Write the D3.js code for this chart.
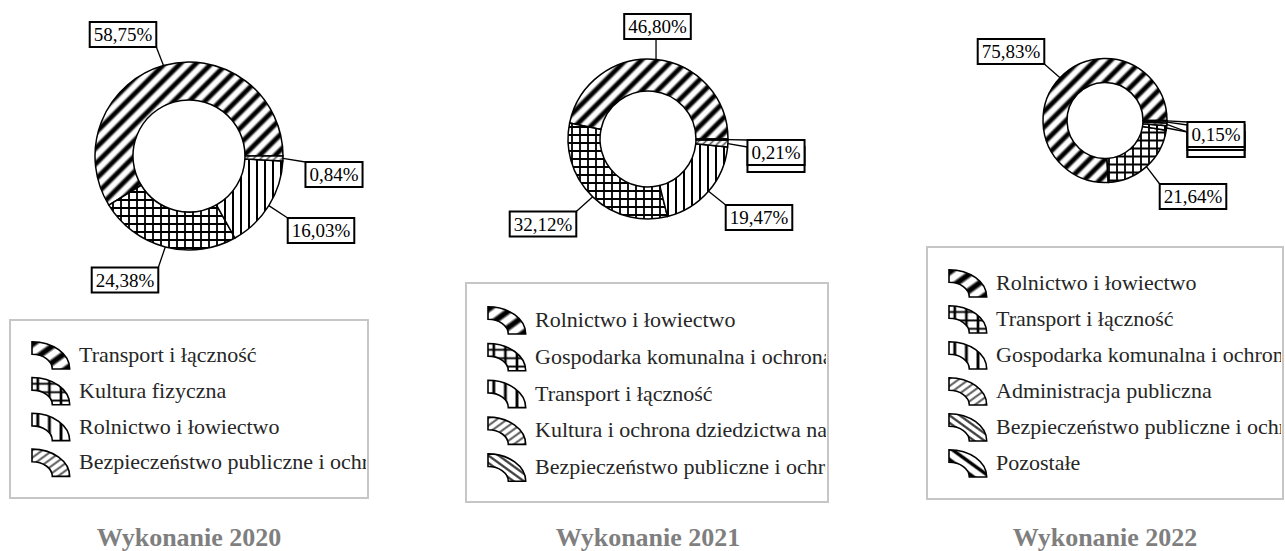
<!DOCTYPE html>
<html>
<head>
<meta charset="utf-8">
<script src="https://cdn.jsdelivr.net/npm/d3@7"></script>
<style>
  body { margin: 0; background: #fff; }
  svg { display: block; }
</style>
</head>
<body>
<svg id="chart" width="1285" height="551"></svg>
<script>
// Data
const years = ['2020', '2021', '2022'];

const categories2020 = ['Transport i łączność', 'Kultura fizyczna', 'Rolnictwo i łowiectwo',
	'Bezpieczeństwo publiczne i ochrona przeciwpożarowa'];
const values2020 = [58.75, 24.38, 16.03, 0.84];

const categories2021 = ['Rolnictwo i łowiectwo', 'Gospodarka komunalna i ochrona środowiska', 'Transport i łączność',
	'Kultura i ochrona dziedzictwa narodowego', 'Bezpieczeństwo publiczne i ochrona przeciwpożarowa'];
const values2021 = [46.80, 32.12, 19.47, 1.40, 0.21];

const categories2022 = ['Rolnictwo i łowiectwo', 'Transport i łączność', 'Gospodarka komunalna i ochrona środowiska',
	'Administracja publiczna', 'Bezpieczeństwo publiczne i ochrona przeciwpożarowa', 'Pozostałe'];
const values2022 = [75.83, 21.64, 1.20, 0.70, 0.48, 0.15];

// Layout of each panel (donut centre, radii, label box offsets, legend box)
const panels = [
	{ cats: categories2020, vals: values2020, cx: 189, cy: 156, R: 94, r: 56,
	  labels: [[-66, -121.5], [-64, 124], [132, 74.5], [145, 18.5]],
	  legend: { x: 10, y: 320, w: 358, h: 178, first: 355, step: 35.8 } },
	{ cats: categories2021, vals: values2021, cx: 648, cy: 139, R: 80, r: 48,
	  labels: [[9.5, -112.5], [-105, 85], [111, 78.5], [128, 20.5], [128, 13.5]],
	  legend: { x: 466, y: 283, w: 362, h: 219, first: 320, step: 36.8 } },
	{ cats: categories2022, vals: values2022, cx: 1105, cy: 120.5, R: 62, r: 38,
	  labels: [[-94, -69], [88, 76], [111, 24], [111, 24], [111, 17], [111, 14]],
	  legend: { x: 927, y: 247, w: 356, h: 252, first: 283, step: 36 } }
];

const svg = d3.select('#chart');
const defs = svg.append('defs');
const serif = 'Liberation Serif, Times New Roman, serif';

// soft black stripe gradient
const grad = defs.append('linearGradient').attr('id', 'soft');
[[0, '#fff'], [0.3, '#000'], [0.7, '#000'], [1, '#fff']].forEach(s => {
	grad.append('stop').attr('offset', s[0]).attr('stop-color', s[1]);
});

function pattern(id, size, rot) {
	const p = defs.append('pattern')
		.attr('id', id)
		.attr('patternUnits', 'userSpaceOnUse')
		.attr('width', size).attr('height', size)
		.attr('patternTransform', rot ? `rotate(${rot})` : null);
	p.append('rect').attr('width', size).attr('height', size).attr('fill', '#fff');
	return p;
}
// wide diagonal stripes
pattern('p0', 11, 45).append('rect').attr('x', 2).attr('width', 7).attr('height', 11).attr('fill', 'url(#soft)');
// crosshatch
pattern('p1', 8).append('path').attr('d', 'M4,0V8M0,4H8').attr('stroke', '#000').attr('stroke-width', 1.8);
// vertical lines
pattern('p2', 8).append('path').attr('d', 'M4,0V8').attr('stroke', '#000').attr('stroke-width', 2);
// thin light diagonal
pattern('p3', 5, 45).append('path').attr('d', 'M2.5,0V5').attr('stroke', '#555').attr('stroke-width', 1.6);
// thin back diagonal
pattern('p4', 5, -45).append('path').attr('d', 'M2.5,0V5').attr('stroke', '#333').attr('stroke-width', 1.8);
// back stripes
pattern('p5', 8, -45).append('rect').attr('x', 2).attr('width', 4).attr('height', 8).attr('fill', 'url(#soft)');

const fills = ['url(#p0)', 'url(#p1)', 'url(#p2)', 'url(#p3)', 'url(#p4)', 'url(#p5)'];
const fmt = v => v.toFixed(2).replace('.', ',') + '%';

panels.forEach((pn, pi) => {
	const pie = d3.pie().sort(null).startAngle(Math.PI / 2).endAngle(Math.PI / 2 - 2 * Math.PI);
	const arcs = pie(pn.vals);
	const arc = d3.arc().innerRadius(pn.r).outerRadius(pn.R);

	const g = svg.append('g').attr('transform', `translate(${pn.cx},${pn.cy})`);
	g.selectAll('path.slice')
		.data(arcs)
		.join('path')
		.attr('class', 'slice')
		.attr('d', arc)
		.attr('fill', (d, i) => fills[i])
		.attr('stroke', '#000')
		.attr('stroke-width', 1.5)
		.attr('stroke-linejoin', 'round');

	// data labels: leader line + boxed value; later labels sit on top of earlier ones
	const lab = g.append('g');
	const boxes = [];
	arcs.forEach((d, i) => {
		const mid = (d.startAngle + d.endAngle) / 2;
		const px = pn.R * Math.sin(mid), py = -pn.R * Math.cos(mid);
		const [bx, by] = pn.labels[i];
		const grp = lab.append('g');
		const t = grp.append('text')
			.attr('x', bx).attr('y', by + 6.5)
			.attr('text-anchor', 'middle')
			.attr('font-family', serif)
			.attr('font-size', 19)
			.attr('fill', '#000')
			.text(fmt(d.data));
		const tw = t.node().getComputedTextLength();
		const bw = tw + 8, bh = 25;
		const x0 = bx - bw / 2, y0 = by - bh / 2;
		boxes.push({ x0, y0, x1: x0 + bw, y1: y0 + bh, t });
		const ex = Math.max(x0, Math.min(x0 + bw, px)), ey = Math.max(y0, Math.min(y0 + bh, py));
		grp.insert('rect', 'text')
			.attr('x', x0).attr('y', y0).attr('width', bw).attr('height', bh)
			.attr('fill', '#fff').attr('stroke', '#000').attr('stroke-width', 2);
		grp.insert('line', 'rect')
			.attr('x1', px).attr('y1', py).attr('x2', ex).attr('y2', ey)
			.attr('stroke', '#000').attr('stroke-width', 1.3);
	});
	// a label covered by a later one shows no text
	boxes.forEach((b, i) => {
		const covered = boxes.slice(i + 1).some(o => o.x0 < b.x1 && o.x1 > b.x0 && o.y0 < b.y1 && o.y1 > b.y0);
		if (covered) b.t.remove();
	});

	// legend
	const L = pn.legend;
	const clipId = 'clip' + pi;
	defs.append('clipPath').attr('id', clipId)
		.append('rect').attr('x', L.x).attr('y', L.y).attr('width', L.w - 2).attr('height', L.h);
	svg.append('rect')
		.attr('x', L.x).attr('y', L.y).attr('width', L.w).attr('height', L.h)
		.attr('fill', '#fff').attr('stroke', '#c6c6c6').attr('stroke-width', 2);
	const lg = svg.append('g').attr('clip-path', `url(#${clipId})`);
	const keyArc = d3.arc().innerRadius(14).outerRadius(26).startAngle(0).endAngle(Math.PI / 2);
	pn.cats.forEach((c, i) => {
		const y = L.first + i * L.step;
		lg.append('path')
			.attr('d', keyArc())
			.attr('transform', `translate(${L.x + 22},${y + 14}) scale(1.45,1.05)`)
			.attr('fill', fills[i])
			.attr('stroke', '#000')
			.attr('stroke-width', 1.6)
			.attr('vector-effect', 'non-scaling-stroke');
		lg.append('text')
			.attr('x', L.x + 69).attr('y', y + 7)
			.attr('font-family', serif)
			.attr('font-size', 22)
			.attr('fill', '#262626')
			.text(c);
	});

	// title
	svg.append('text')
		.attr('x', pn.cx).attr('y', 546)
		.attr('text-anchor', 'middle')
		.attr('font-family', serif)
		.attr('font-weight', 'bold')
		.attr('font-size', 26)
		.attr('fill', '#7f7f7f')
		.text('Wykonanie ' + years[pi]);
});
</script>
</body>
</html>
